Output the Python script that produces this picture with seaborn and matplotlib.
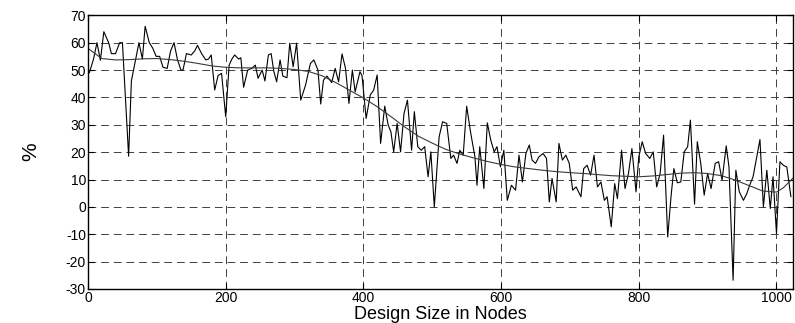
import numpy as np
import pandas as pd
import matplotlib
matplotlib.use("Agg")
import matplotlib.pyplot as plt
import seaborn as sns

# ---- data ----
design_size = [2, 8, 13, 18, 23, 30, 34, 40, 46, 50, 59, 63, 69, 74, 79, 83, 89, 94, 99, 104,
               109, 115, 120, 125, 130, 135, 138, 143, 150, 155, 159, 165, 171, 175, 179, 184, 189, 194, 200, 205,
               209, 213, 219, 222, 226, 232, 238, 243, 247, 253, 257, 262, 266, 270, 274, 279, 283, 289, 293, 298,
               303, 309, 316, 323, 328, 334, 338, 342, 347, 354, 359, 364, 369, 374, 379, 384, 388, 395, 398, 404,
               410, 415, 420, 425, 431, 436, 440, 444, 449, 454, 459, 464, 470, 474, 479, 484, 489, 494, 498, 503,
               510, 515, 521, 527, 531, 536, 540, 545, 550, 556, 562, 565, 569, 575, 580, 585, 590, 594, 599, 604,
               609, 615, 621, 626, 631, 636, 641, 645, 650, 655, 661, 666, 670, 674, 680, 684, 689, 694, 699, 704,
               709, 716, 720, 725, 730, 735, 740, 745, 750, 754, 760, 765, 769, 775, 780, 785, 790, 796, 800, 805,
               810, 816, 821, 826, 831, 836, 842, 847, 851, 856, 861, 866, 871, 875, 881, 885, 890, 895, 900, 905,
               911, 916, 921, 927, 931, 937, 941, 946, 952, 957, 961, 966, 971, 976, 981, 986, 991, 995, 1000, 1005,
               1010, 1015, 1021]
percent = [49, 54, 60, 53.6, 64, 60, 56, 56, 60, 60, 18.5, 46, 53.6, 60, 54, 66, 60, 58, 55, 55,
           51, 50.6, 57, 60, 53.7, 50, 50, 56, 55.5, 57, 59, 56, 53.7, 54, 55.5, 42.7, 48, 48.8, 33, 51.8,
           54, 55.5, 54, 54.5, 43.7, 50, 50.6, 51.8, 47, 50, 46, 55.5, 56, 49.4, 45.7, 53.7, 47.8, 47.2, 59.8, 51.2,
           59.8, 39, 44.5, 52.4, 53.7, 50, 37.6, 46.3, 47.8, 45.4, 50.6, 45.7, 55.9, 50.6, 37.8, 50, 42, 49.4, 48, 32.3,
           40.9, 42.7, 48.2, 23.2, 36.8, 29.9, 27.4, 20.1, 30.5, 20.1, 34.1, 39, 20.7, 34.8, 22, 20.7, 22, 11, 20.1, 0,
           25.6, 31.1, 30.5, 17.7, 18.9, 15.9, 20.7, 18.9, 36.8, 26.8, 18.3, 7.9, 22, 6.7, 30.7, 24.4, 20.1, 22, 14.6, 20.7,
           2.4, 7.9, 6.1, 18.9, 9.1, 19.5, 22.6, 17.1, 15.9, 18.3, 19.5, 17.7, 1.8, 10.4, 1.8, 23.2, 17.1, 18.9, 15.9, 6.1,
           7.3, 3.7, 14, 15.2, 11.6, 18.9, 7.3, 9.1, 2.4, 3.7, -7.3, 8.5, 3, 20.7, 6.7, 12.2, 21.3, 5.5, 18.3, 23.8,
           19.5, 17.7, 20.1, 7.3, 12.2, 26.2, -11, 4.3, 14, 8.8, 9.1, 20.1, 22, 31.7, 1, 23.8, 15.9, 4.3, 12.2, 6.7,
           15.9, 16.5, 9.8, 22.3, 14.6, -26.8, 13.4, 5.5, 2.4, 4.9, 7.9, 11, 17.7, 24.6, 0, 13.4, -0.6, 11, -9.8, 16.5,
           15.2, 14.6, 3.7]

trend_size = [0, 20, 40, 60, 80, 100, 120, 140, 160, 180, 200, 220, 240, 260, 280, 300, 320, 340, 360, 380,
              400, 420, 440, 460, 480, 500, 520, 540, 560, 580, 600, 620, 640, 660, 680, 700, 720, 740, 760, 780,
              800, 820, 840, 860, 880, 900, 920, 940, 960, 980, 1000, 1010, 1024]
trend_pct = [57.9, 54.2, 53.7, 53.8, 54.1, 54.2, 53.8, 53.2, 52.4, 51.5, 51.0, 50.8, 50.8, 50.8, 50.6, 50.2, 49.5, 47.9, 45.4, 42.6,
             39.8, 36.6, 33.0, 29.2, 25.8, 23.3, 21.0, 19.3, 17.9, 16.6, 15.5, 14.6, 14.0, 13.4, 12.9, 12.5, 12.2, 11.8, 11.4, 11.2,
             11.0, 11.3, 11.8, 12.3, 12.5, 12.2, 11.4, 9.8, 7.8, 5.8, 5.4, 7.0, 10.5]

x_ticks = [0, 200, 400, 600, 800, 1000]
y_ticks = [-30, -20, -10, 0, 10, 20, 30, 40, 50, 60, 70]

# ---- style ----
sns.set_theme(style="white")
plt.rcParams['font.family'] = ['Liberation Sans', 'DejaVu Sans']

fig = plt.figure(figsize=(7.95, 3.23), dpi=100)
ax = fig.add_axes([88 / 795, 1 - 289 / 323, (793 - 88) / 795, (289 - 15.3) / 323])

raw = pd.DataFrame({"size": design_size, "pct": percent})
trend = pd.DataFrame({"size": trend_size, "pct": trend_pct})

sns.lineplot(data=raw, x="size", y="pct", ax=ax, color="black", linewidth=0.8,
             estimator=None, sort=False)
sns.lineplot(data=trend, x="size", y="pct", ax=ax, color="#3a3a3a", linewidth=0.8,
             estimator=None, sort=False)

ax.set_xlim(0, 1024)
ax.set_ylim(-30, 70)
ax.set_xticks(x_ticks)
ax.set_yticks(y_ticks)
ax.set_xticklabels([str(t) for t in x_ticks])
ax.set_yticklabels([str(t) for t in y_ticks])

ax.grid(True, color="#404040", linestyle=(0, (8, 5)), linewidth=0.7)
for s in ax.spines.values():
    s.set_color("black")
    s.set_linewidth(1.0)
ax.tick_params(direction="in", length=4, width=0.8, top=True, right=True,
               bottom=True, left=True, labelsize=10, colors="black", pad=1.5)

ax.set_xlabel("Design Size in Nodes", fontsize=13, labelpad=0.5, color="black")
ax.set_ylabel("%", fontsize=15, labelpad=18, color="black")

fig.savefig("out.png", dpi=100)
